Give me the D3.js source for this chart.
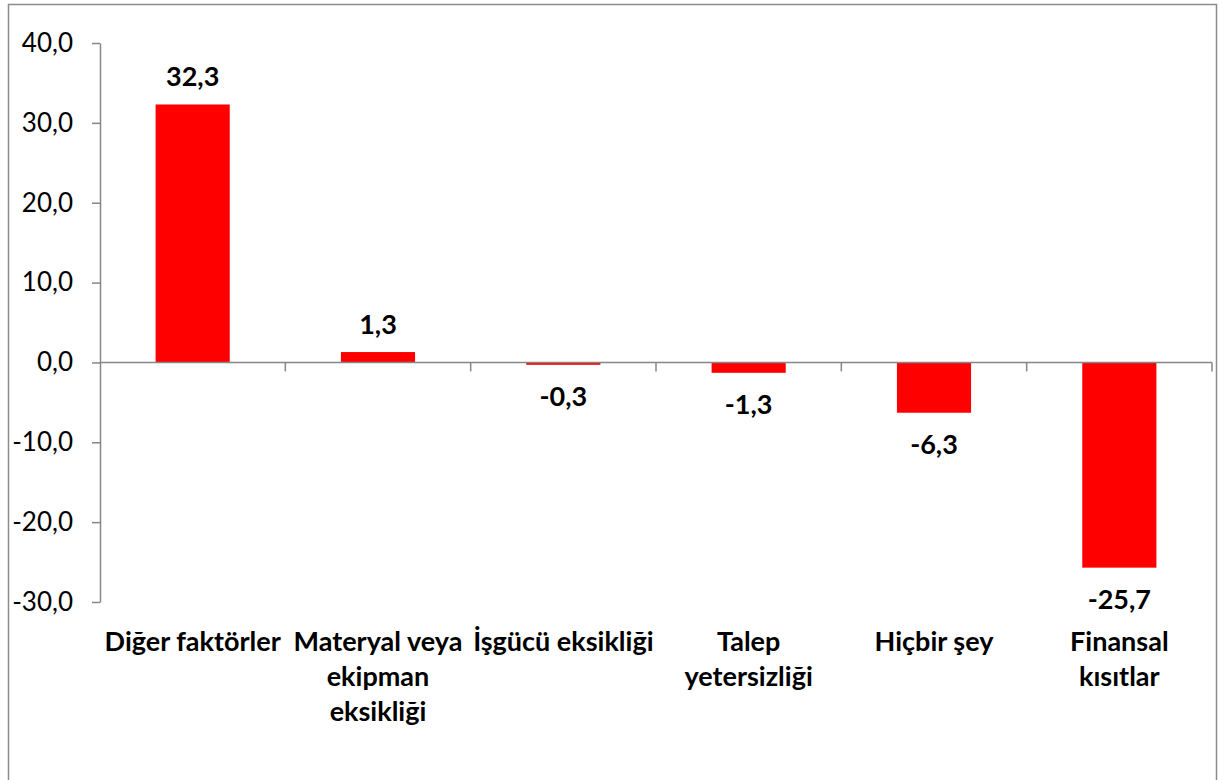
<!DOCTYPE html>
<html>
<head>
<meta charset="utf-8">
<script src="https://cdn.jsdelivr.net/npm/d3@7"></script>
<style>
  body { margin: 0; background: #fff; }
  svg { display: block; font-family: Lato, "Open Sans", sans-serif; }
</style>
</head>
<body>
<div id="container"></div>
<script>
/* DATA */
const categories = [
  ["Diğer faktörler"],
  ["Materyal veya", "ekipman", "eksikliği"],
  ["İşgücü eksikliği"],
  ["Talep", "yetersizliği"],
  ["Hiçbir şey"],
  ["Finansal", "kısıtlar"]
]
const values = [32.3, 1.3, -0.3, -1.3, -6.3, -25.7]
const yTicks = [40, 30, 20, 10, 0, -10, -20, -30]

/* CONSTANTS */
const width = 1219
const height = 780
const margin = { top: 43, bottom: 178, left: 100, right: 7 }
const fmt = v => v.toFixed(1).replace('.', ',')

const svg = d3.select('#container')
  .append('svg')
  .attr('width', width)
  .attr('height', height)

// chart border
svg.append('rect')
  .attr('x', 8.5).attr('y', 4.5)
  .attr('width', 1208).attr('height', 820)
  .attr('fill', 'none')
  .attr('stroke', '#8c8c8c')
  .attr('stroke-width', 1.5)

/* SCALES */
const yScale = d3.scaleLinear()
  .domain([-30, 40])
  .range([height - margin.bottom, margin.top])

const xScale = d3.scaleBand()
  .domain(d3.range(values.length))
  .range([margin.left, width - margin.right])
  .paddingInner(0.6)
  .paddingOuter(0.3)

const band = d3.scaleBand()
  .domain(d3.range(values.length))
  .range([margin.left, width - margin.right])

/* AXES */
const yAxis = svg.append('g')
  .attr('transform', `translate(${margin.left},0)`)
  .call(d3.axisLeft(yScale).tickValues(yTicks).tickFormat(fmt).tickSize(8).tickSizeOuter(0))
yAxis.select('.domain').attr('stroke', '#868686').attr('stroke-width', 1.5)
yAxis.selectAll('.tick line').attr('stroke', '#868686').attr('stroke-width', 1.5)
yAxis.selectAll('.tick text')
  .attr('x', -27)
  .attr('font-size', 26)
  .attr('font-family', 'Lato, sans-serif')
  .attr('fill', '#000')

// bars
svg.selectAll('rect.bar')
  .data(values)
  .join('rect')
  .attr('class', 'bar')
  .attr('x', (d, i) => xScale(i))
  .attr('width', xScale.bandwidth())
  .attr('y', d => yScale(Math.max(0, d)))
  .attr('height', d => Math.abs(yScale(d) - yScale(0)))
  .attr('fill', '#ff0000')

// x axis at zero with band-boundary ticks below
const x0 = yScale(0)
svg.append('line')
  .attr('x1', margin.left).attr('x2', width - margin.right)
  .attr('y1', x0).attr('y2', x0)
  .attr('stroke', '#868686').attr('stroke-width', 1.5)
svg.selectAll('line.xtick')
  .data(d3.range(1, values.length + 1))
  .join('line')
  .attr('class', 'xtick')
  .attr('x1', i => i < values.length ? band(i) : width - margin.right)
  .attr('x2', i => i < values.length ? band(i) : width - margin.right)
  .attr('y1', x0).attr('y2', x0 + 9)
  .attr('stroke', '#868686').attr('stroke-width', 1.5)

// value labels
svg.selectAll('text.val')
  .data(values)
  .join('text')
  .attr('class', 'val')
  .attr('x', (d, i) => xScale(i) + xScale.bandwidth() / 2)
  .attr('y', d => d >= 0 ? yScale(d) - 18 : yScale(d) + 41)
  .attr('text-anchor', 'middle')
  .attr('font-size', 27)
  .attr('font-weight', 'bold')
  .text(fmt)

// category labels
svg.selectAll('text.cat')
  .data(categories)
  .join('text')
  .attr('class', 'cat')
  .attr('x', (d, i) => band(i) + band.bandwidth() / 2)
  .attr('y', 651)
  .attr('text-anchor', 'middle')
  .attr('font-size', 27)
  .attr('font-weight', 'bold')
  .selectAll('tspan')
  .data(d => d)
  .join('tspan')
  .attr('x', function () { return this.parentNode.getAttribute('x') })
  .attr('dy', (d, i) => i === 0 ? 0 : 35)
  .text(d => d)
</script>
</body>
</html>
